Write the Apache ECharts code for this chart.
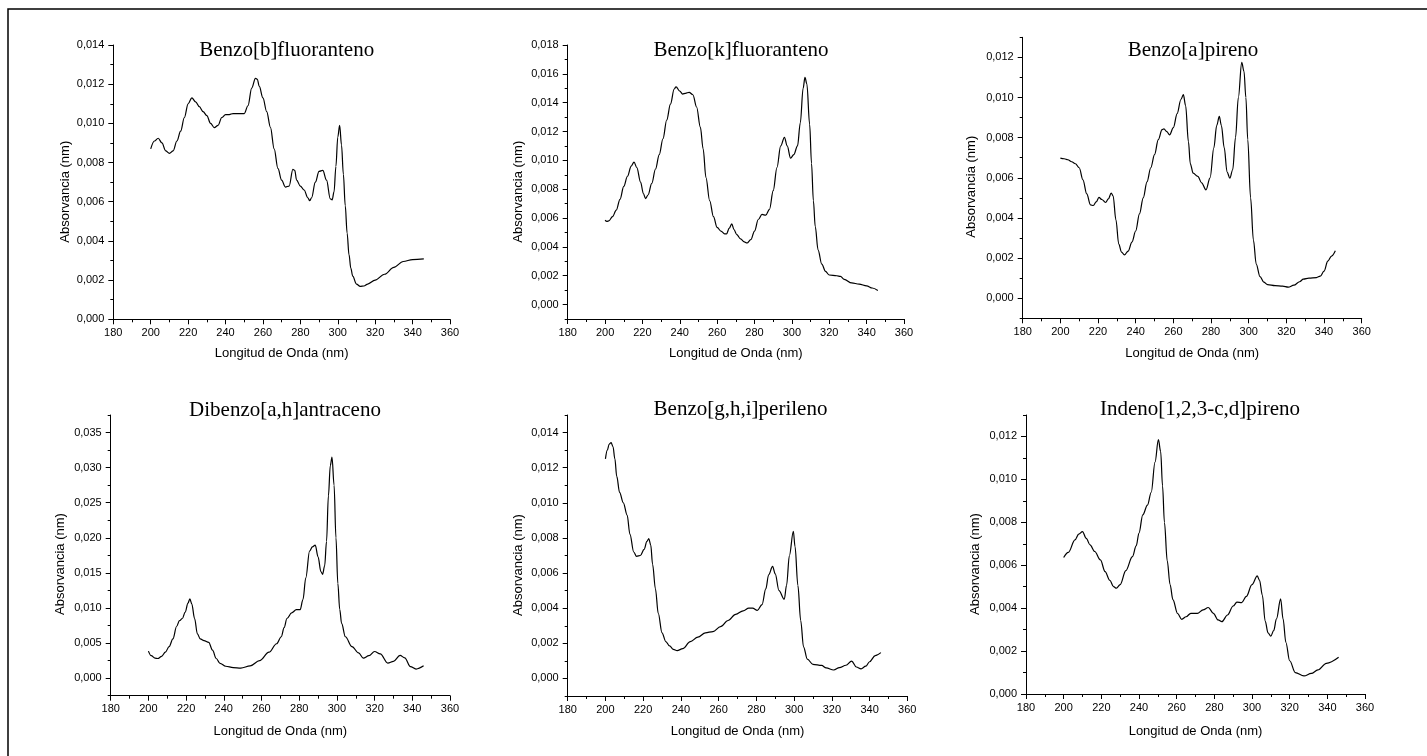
<!DOCTYPE html>
<html>
<head>
<meta charset="utf-8">
<script src="https://cdn.jsdelivr.net/npm/echarts@6/dist/echarts.min.js"></script>
<style>
html, body { margin: 0; padding: 0; background: #fff; }
#chart { width: 1427px; height: 756px; }
</style>
</head>
<body>
<div id="chart"></div>
<script>
// wavelength axis ticks (nm)
const xTicks = [180, 200, 220, 240, 260, 280, 300, 320, 340, 360]

// absorbance tick labels per panel
const bbfTicks = [0, 0.002, 0.004, 0.006, 0.008, 0.010, 0.012, 0.014]
const bkfTicks = [0, 0.002, 0.004, 0.006, 0.008, 0.010, 0.012, 0.014, 0.016, 0.018]
const bapTicks = [0, 0.002, 0.004, 0.006, 0.008, 0.010, 0.012]
const dbaTicks = [0, 0.005, 0.010, 0.015, 0.020, 0.025, 0.030, 0.035]
const bghiTicks = [0, 0.002, 0.004, 0.006, 0.008, 0.010, 0.012, 0.014]
const indTicks = [0, 0.002, 0.004, 0.006, 0.008, 0.010, 0.012]

// spectra [nm, absorbance]
const bbfData = [[200,0.0087],[202,0.0091],[204,0.00924],[206,0.0090],[208,0.0086],[210,0.00847],[212,0.0086],[214,0.0091],[216,0.0096],[218,0.0103],[220,0.0110],[222,0.0113],[224,0.0111],[226,0.01085],[228,0.0106],[230,0.0104],[232,0.0100],[234,0.00978],[236,0.0099],[238,0.0103],[240,0.01045],[242,0.01045],[244,0.0105],[246,0.0105],[248,0.0105],[250,0.0105],[252,0.0109],[254,0.0118],[256,0.0123],[257,0.01225],[258,0.0119],[260,0.0113],[262,0.0106],[264,0.0098],[266,0.0087],[268,0.0077],[270,0.0071],[272,0.00675],[274,0.0068],[276,0.00765],[277,0.0076],[278,0.0071],[280,0.0068],[282,0.0066],[284,0.0062],[285,0.00605],[286,0.0062],[288,0.0070],[290,0.00755],[292,0.0076],[294,0.0071],[296,0.00615],[297,0.0061],[298,0.0065],[299,0.0078],[300,0.0093],[301,0.0099],[302,0.0089],[303,0.0074],[304,0.0058],[305,0.0044],[306,0.0033],[307,0.0026],[308,0.0022],[310,0.0018],[312,0.00168],[314,0.0017],[316,0.0018],[320,0.0020],[325,0.0023],[330,0.00265],[335,0.00295],[340,0.00305],[346,0.00308]]

const bkfData = [[200,0.00585],[201,0.00577],[202,0.0058],[204,0.0061],[206,0.00655],[208,0.0073],[210,0.0082],[212,0.0089],[214,0.0096],[215.5,0.00988],[217,0.0095],[219,0.0085],[220.5,0.0077],[221.7,0.00735],[223,0.0076],[225,0.0084],[227,0.0094],[229,0.0104],[231,0.0115],[233,0.0128],[235,0.0139],[237,0.01495],[238,0.0151],[240,0.0148],[241.5,0.0146],[243,0.01465],[245,0.01472],[247,0.01455],[249,0.0137],[251,0.0123],[252.5,0.0108],[254,0.0088],[256,0.0072],[258,0.0061],[260,0.00535],[262,0.0051],[264,0.0049],[265,0.0049],[266.5,0.0053],[267.8,0.0056],[269,0.0052],[270.5,0.00485],[272.5,0.00455],[274.5,0.00435],[276,0.00427],[278,0.0045],[280,0.0051],[282,0.0059],[284,0.00625],[286,0.0062],[288,0.0066],[290,0.0079],[292,0.0095],[294,0.0110],[296,0.0116],[297.5,0.0110],[299.3,0.01015],[301,0.0104],[303,0.0110],[304.5,0.0126],[306,0.0150],[307,0.01575],[308,0.0153],[309.5,0.0125],[310.5,0.0098],[311.5,0.0072],[312.5,0.0054],[314,0.0038],[316,0.0028],[318,0.0023],[320,0.00205],[324,0.0020],[326,0.00195],[328,0.00175],[332,0.0015],[336,0.00142],[340,0.0013],[343,0.00115],[346,0.00097]]

const bapData = [[200,0.00698],[202,0.00695],[204,0.0069],[206,0.0068],[208,0.0067],[210,0.0065],[212,0.0059],[214,0.0052],[216,0.00465],[217.5,0.00462],[219,0.0048],[220.5,0.00502],[222,0.00492],[224,0.00477],[225.5,0.00495],[227,0.00524],[228,0.0051],[229.5,0.0039],[231,0.0027],[232.5,0.0023],[234,0.00216],[236,0.00235],[238,0.0028],[240,0.00335],[242,0.0042],[244,0.0050],[246,0.0058],[248,0.0065],[250,0.00715],[252,0.0079],[254,0.0084],[255,0.00844],[256.5,0.0083],[258,0.00814],[260,0.0085],[262,0.0092],[264,0.0099],[265.3,0.01014],[266.5,0.0096],[268,0.0078],[269,0.0067],[270.5,0.00623],[273,0.00607],[275,0.00575],[277.3,0.0054],[279.5,0.0060],[281.5,0.0075],[283,0.0086],[284.4,0.00906],[285.5,0.0086],[287,0.0075],[288.5,0.0063],[290,0.00598],[291.5,0.0064],[293,0.0080],[294.5,0.0100],[296.3,0.01175],[297.5,0.0113],[298.5,0.0100],[299.5,0.0079],[301,0.0050],[302.5,0.0029],[304,0.0017],[306,0.00108],[308,0.0008],[310,0.00068],[314,0.00063],[318,0.0006],[321,0.00055],[324,0.00065],[327,0.00082],[329,0.00095],[332,0.0010],[336,0.00103],[338,0.0011],[340,0.00135],[342,0.00185],[344,0.0021],[346,0.00236]]

const dbaData = [[200,0.00385],[201.5,0.0032],[203.5,0.00285],[205,0.0028],[207,0.0031],[209,0.0037],[211,0.0045],[213,0.0056],[215,0.0074],[216.5,0.0082],[218,0.0085],[219.5,0.0094],[221,0.0107],[222,0.0113],[223,0.0106],[224.5,0.0085],[226,0.0063],[227.5,0.0056],[229.5,0.00535],[232,0.0051],[234,0.0040],[236,0.0028],[238,0.0021],[241,0.0017],[245,0.0015],[249,0.00143],[254,0.00175],[259,0.0025],[264,0.0037],[268,0.0049],[270.5,0.0059],[272,0.0072],[273.5,0.0085],[276,0.0093],[278.5,0.00976],[280.5,0.00976],[282,0.0112],[283.5,0.0143],[285.5,0.0181],[287,0.0187],[288.5,0.01895],[290,0.0173],[291.5,0.0152],[292.4,0.0148],[293.5,0.0160],[294.5,0.0195],[295.5,0.0260],[296.5,0.0303],[297.4,0.0315],[298.5,0.0275],[299.5,0.0200],[300.5,0.0135],[301.5,0.0098],[302.5,0.0078],[304.5,0.0059],[308,0.0045],[311.5,0.0036],[314,0.00286],[317,0.0032],[320,0.0038],[323,0.00345],[327,0.00215],[330,0.0024],[333.5,0.00324],[336,0.0029],[339,0.00165],[342,0.0013],[346,0.00176]]

const bghiData = [[200,0.0125],[201,0.0130],[202,0.01335],[203,0.01343],[204,0.0132],[205,0.0125],[206,0.0115],[207.5,0.0106],[209.5,0.0100],[211.5,0.0093],[213,0.0082],[215,0.0072],[216.5,0.00695],[218.5,0.0070],[220.5,0.00735],[222,0.0078],[223,0.00796],[224,0.0076],[225,0.0065],[226.5,0.0051],[228,0.0037],[230,0.0026],[232,0.0021],[234,0.00185],[236,0.00165],[238,0.00158],[241,0.0017],[245,0.0021],[249,0.00235],[253,0.0026],[257,0.00267],[261,0.00295],[265,0.0033],[269,0.00365],[273,0.00385],[276,0.0040],[278,0.0040],[280.5,0.00387],[283,0.0042],[285,0.0051],[286.5,0.0059],[288.6,0.00638],[290,0.00595],[292,0.0050],[294.8,0.00451],[296,0.0053],[297.5,0.0070],[299.6,0.00838],[300.5,0.0075],[302,0.0053],[303.5,0.0033],[305,0.0018],[307,0.0011],[310,0.0008],[314.6,0.00074],[317,0.0006],[321,0.00048],[324,0.00062],[327.5,0.00075],[330.5,0.00099],[333,0.00065],[335.5,0.00055],[338,0.0007],[340,0.00095],[343,0.0013],[346,0.00147]]

const indData = [[200,0.00636],[202.5,0.0066],[206,0.00718],[208,0.00745],[210,0.00757],[212,0.00725],[214,0.00695],[216.5,0.00664],[219.5,0.00625],[222,0.0057],[224.5,0.0053],[226.5,0.0050],[228,0.00493],[230,0.0051],[233,0.00575],[236.5,0.0064],[238.5,0.0069],[240,0.0075],[242,0.00835],[244.5,0.0088],[246.5,0.0094],[248.5,0.0108],[250.3,0.01185],[251.5,0.0113],[252.5,0.0097],[253.5,0.0080],[255,0.0062],[256.5,0.0051],[258,0.0044],[260.5,0.00375],[262.7,0.00348],[265,0.0036],[267.5,0.00376],[271,0.00376],[274,0.00392],[276.8,0.00403],[279.5,0.00376],[282,0.00345],[284,0.00337],[287,0.00368],[290,0.0041],[292,0.00428],[294.5,0.00426],[297,0.00455],[300,0.0051],[302.8,0.0055],[304,0.0053],[305.5,0.0046],[307,0.0034],[308.5,0.00285],[310,0.0027],[311.5,0.00295],[313,0.0035],[315.2,0.00443],[316.5,0.0035],[318,0.0024],[320,0.00155],[323,0.0010],[327.6,0.00084],[331.5,0.00096],[335,0.00112],[339.5,0.00143],[346,0.00171]]

const panels = [
  { title: 'Benzo[b]fluoranteno', data: bbfData, ticks: bbfTicks, yMin: 0, yMax: 0.014,
    box: [113.3, 45, 336.7, 274.3], titlePos: [286.7, 50], yNamePos: [65, 191.7], xNameY: 353.3 },
  { title: 'Benzo[k]fluoranteno', data: bkfData, ticks: bkfTicks, yMin: -0.001, yMax: 0.018,
    box: [567.7, 45, 336.3, 274], titlePos: [741, 50], yNamePos: [518.3, 191.7], xNameY: 353.3 },
  { title: 'Benzo[a]pireno', data: bapData, ticks: bapTicks, yMin: -0.001, yMax: 0.013,
    box: [1022.7, 37.3, 339, 281], titlePos: [1193, 50], yNamePos: [971.7, 186.7], xNameY: 353.3 },
  { title: 'Dibenzo[a,h]antraceno', data: dbaData, ticks: dbaTicks, yMin: -0.0025, yMax: 0.0375,
    box: [110.7, 415, 339.3, 280.7], titlePos: [285, 410], yNamePos: [60, 564], xNameY: 731.7 },
  { title: 'Benzo[g,h,i]perileno', data: bghiData, ticks: bghiTicks, yMin: -0.001, yMax: 0.015,
    box: [567.7, 415, 339.6, 281], titlePos: [740.5, 409], yNamePos: [518.3, 565], xNameY: 731.7 },
  { title: 'Indeno[1,2,3-c,d]pireno', data: indData, ticks: indTicks, yMin: 0, yMax: 0.013,
    box: [1026, 415, 339, 279], titlePos: [1200, 409], yNamePos: [975, 564], xNameY: 731 }
]

const fmt = v => Number(v).toFixed(3).replace('.', ',')
const sans = 'Liberation Sans, Arial, sans-serif'

const grid = [], xAxis = [], yAxis = [], series = []
const graphic = [{
  type: 'rect', silent: true,
  shape: { x: 8, y: 9, width: 1440, height: 800 },
  style: { fill: 'none', stroke: '#000', lineWidth: 1.5 }
}]

panels.forEach((p, i) => {
  const [left, top, width, height] = p.box
  grid.push({ left, top, width, height })

  xAxis.push({
    type: 'value', gridIndex: i,
    min: xTicks[0], max: xTicks[xTicks.length - 1], interval: xTicks[1] - xTicks[0],
    axisLine: { show: true, onZero: false, lineStyle: { color: '#000', width: 1 } },
    axisTick: { show: true, length: 5, lineStyle: { color: '#000' } },
    minorTick: { show: true, splitNumber: 2, length: 3, lineStyle: { color: '#000' } },
    axisLabel: { color: '#000', fontSize: 11, fontFamily: sans, margin: 8 },
    splitLine: { show: false }
  })

  const step = p.ticks[1] - p.ticks[0]
  // line + small ticks
  yAxis.push({
    type: 'value', gridIndex: i, position: 'left',
    min: p.yMin, max: p.yMax, interval: step / 2,
    axisLine: { show: true, onZero: false, lineStyle: { color: '#000', width: 1 } },
    axisTick: { show: true, length: 3, lineStyle: { color: '#000' } },
    axisLabel: { show: false },
    splitLine: { show: false }
  })
  // labelled ticks
  yAxis.push({
    type: 'value', gridIndex: i, position: 'left',
    min: p.yMin, max: p.yMax,
    axisLine: { show: false },
    axisTick: { show: true, length: 5, customValues: p.ticks, lineStyle: { color: '#000' } },
    axisLabel: { show: true, customValues: p.ticks, formatter: fmt, color: '#000', fontSize: 11, fontFamily: sans, margin: 9 },
    splitLine: { show: false }
  })

  series.push({
    type: 'line', xAxisIndex: i, yAxisIndex: 2 * i + 1,
    data: p.data, symbol: 'none', showSymbol: false,
    smooth: 0.35, smoothMonotone: 'x',
    lineStyle: { color: '#000', width: 1.2 }
  })

  graphic.push({
    type: 'text', silent: true, x: p.titlePos[0], y: p.titlePos[1],
    style: { text: p.title, fill: '#000', font: '21px "Liberation Serif", "Times New Roman", serif',
      textAlign: 'center', textVerticalAlign: 'middle', align: 'center', verticalAlign: 'middle' }
  })
  graphic.push({
    type: 'text', silent: true, x: p.yNamePos[0], y: p.yNamePos[1], rotation: Math.PI / 2,
    style: { text: 'Absorvancia (nm)', fill: '#000', font: '13px ' + sans,
      textAlign: 'center', textVerticalAlign: 'middle', align: 'center', verticalAlign: 'middle' }
  })
  graphic.push({
    type: 'text', silent: true, x: left + width / 2, y: p.xNameY,
    style: { text: 'Longitud de Onda (nm)', fill: '#000', font: '13px ' + sans,
      textAlign: 'center', textVerticalAlign: 'middle', align: 'center', verticalAlign: 'middle' }
  })
})

const chart = echarts.init(document.getElementById('chart'), null, { renderer: 'canvas' })
chart.setOption({
  animation: false,
  backgroundColor: '#fff',
  grid, xAxis, yAxis, series, graphic
})
</script>
</body>
</html>
